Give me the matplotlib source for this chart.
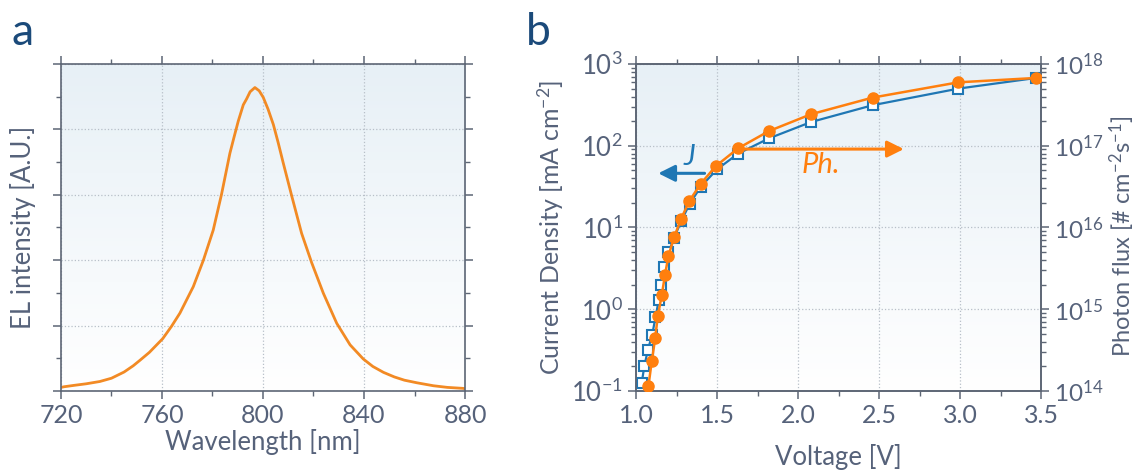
import numpy as np
import matplotlib
matplotlib.use('Agg')
import matplotlib.pyplot as plt
from matplotlib.ticker import MultipleLocator, LogLocator, NullFormatter, FormatStrFormatter
from matplotlib.colors import LinearSegmentedColormap

plt.rcParams['font.family'] = ['Lato', 'DejaVu Sans']
plt.rcParams['mathtext.fontset'] = 'custom'
plt.rcParams['mathtext.rm'] = 'Lato'
plt.rcParams['mathtext.it'] = 'Lato:italic'

# panel a: EL spectrum
wl = [720, 721.3, 725, 730, 735.4, 740, 745, 748.6, 751.3, 755, 760.3, 763.8,
      767.1, 772.4, 776.4, 780.3, 783.6, 786.9, 788.5, 790.2, 792.2, 793.5,
      794.9, 796.8, 798.5, 800.1, 802, 804.1, 806, 808.0, 811.4, 815.3, 819.3,
      823.9, 829.2, 834.5, 839.7, 843.5, 847.7, 852, 856, 861, 867.5, 873,
      879.2, 880]
el = [0.011, 0.013, 0.017, 0.022, 0.029, 0.039, 0.058, 0.077, 0.094, 0.118,
      0.160, 0.198, 0.238, 0.319, 0.400, 0.492, 0.602, 0.727, 0.775, 0.825,
      0.875, 0.893, 0.915, 0.928, 0.918, 0.898, 0.862, 0.815, 0.760, 0.698,
      0.596, 0.482, 0.392, 0.299, 0.207, 0.141, 0.098, 0.075, 0.057, 0.043,
      0.033, 0.025, 0.016, 0.011, 0.008, 0.007]

# panel b: J-V and photon flux
v_j = [1.035, 1.051, 1.073, 1.100, 1.120, 1.140, 1.155, 1.175, 1.200, 1.235,
       1.280, 1.330, 1.400, 1.500, 1.630, 1.820, 2.080, 2.460, 2.990, 3.470]
j = [0.126, 0.20, 0.32, 0.49, 0.80, 1.28, 2.0, 3.25, 4.95, 7.5,
     12.1, 19.3, 31.6, 51.5, 80, 123, 195, 313, 500, 675]
v_ph = [1.076, 1.097, 1.118, 1.134, 1.159, 1.179, 1.200, 1.235, 1.277,
        1.328, 1.400, 1.493, 1.630, 1.820, 2.080, 2.460, 2.990, 3.470]
ph = [1.14e14, 2.3e14, 4.4e14, 8.2e14, 1.5e15, 2.65e15, 4.5e15, 7.6e15, 1.26e16,
      2.1e16, 3.44e16, 5.65e16, 9.3e16, 1.51e17, 2.43e17, 3.88e17, 5.97e17, 6.75e17]

txt = '#56627a'
spine = '#5d6675'
orange = '#ff7f0e'
blue = '#1f77b4'
plt.rcParams['text.color'] = txt
plt.rcParams['axes.labelcolor'] = txt
plt.rcParams['xtick.color'] = spine
plt.rcParams['ytick.color'] = spine
plt.rcParams['xtick.labelcolor'] = txt
plt.rcParams['ytick.labelcolor'] = txt

fig = plt.figure(figsize=(11.35, 4.73), dpi=100)
ax_a = fig.add_axes([0.0537, 0.1734, 0.356, 0.6913])
ax_b = fig.add_axes([0.5604, 0.1734, 0.3568, 0.6913])

grad = np.linspace(0, 1, 256).reshape(-1, 1)
bg = LinearSegmentedColormap.from_list('bg', ['#ffffff', '#e7f0f6'])


def style(ax):
    ax.imshow(grad, cmap=bg, extent=[0, 1, 0, 1], transform=ax.transAxes,
              aspect='auto', origin='lower', zorder=-10)
    for s in ax.spines.values():
        s.set_color(spine)
        s.set_linewidth(1.2)
    ax.tick_params(which='major', direction='out', length=6, width=1.1, labelsize=18)
    ax.tick_params(which='minor', direction='out', length=3.5, width=1.0)
    ax.grid(True, which='major', linestyle=':', color='#b7bfc8', linewidth=0.9)
    ax.set_axisbelow(True)


# ---- panel a
style(ax_a)
ax_a.plot(wl, el, color='#f28a24', lw=2.0)
ax_a.set_xlim(720, 880)
ax_a.set_ylim(0, 1)
ax_a.xaxis.set_major_locator(MultipleLocator(40))
ax_a.xaxis.set_minor_locator(MultipleLocator(20))
ax_a.yaxis.set_major_locator(MultipleLocator(0.2))
ax_a.yaxis.set_minor_locator(MultipleLocator(0.1))
ax_a.tick_params(which='both', top=True, right=True, labelleft=False)
ax_a.set_xlabel('Wavelength [nm]', fontsize=18.5, labelpad=1)
ax_a.set_ylabel('EL intensity [A.U.]', fontsize=18.5, labelpad=12)
fig.text(0.010, 0.905, 'a', fontsize=32, color='#1b4a7a')

# ---- panel b
style(ax_b)
ax_b.set_yscale('log')
ax_b.plot(v_j, j, color=blue, lw=1.6, marker='s', ms=6.5, mfc='white',
          mec=blue, mew=1.5, zorder=3)
ax_b.set_xlim(1.0, 3.5)
ax_b.set_ylim(0.1, 1000)
ax_b.xaxis.set_major_locator(MultipleLocator(0.5))
ax_b.xaxis.set_minor_locator(MultipleLocator(0.25))
ax_b.xaxis.set_major_formatter(FormatStrFormatter('%.1f'))
ax_b.yaxis.set_minor_locator(LogLocator(base=10, subs=np.arange(2, 10), numticks=20))
ax_b.yaxis.set_minor_formatter(NullFormatter())
ax_b.tick_params(which='both', top=True)
ax_b.tick_params(axis='y', labelsize=18.5)
ax_b.set_xlabel('Voltage [V]', fontsize=18.5, labelpad=12)
ax_b.set_ylabel('Current Density [mA cm$^{-2}$]', fontsize=18, labelpad=4)

ax2 = ax_b.twinx()
ax2.set_yscale('log')
ax2.set_ylim(1e14, 1e18)
ax2.plot(v_ph, ph, color=orange, lw=1.8, marker='o', ms=8, zorder=4)
ax2.yaxis.set_minor_locator(LogLocator(base=10, subs=np.arange(2, 10), numticks=20))
ax2.yaxis.set_minor_formatter(NullFormatter())
for s in ax2.spines.values():
    s.set_color(spine)
    s.set_linewidth(1.2)
ax2.tick_params(which='major', direction='out', length=6, width=1.1, labelsize=17.5)
ax2.tick_params(which='minor', direction='out', length=3.5, width=1.0)
fig.text(1122 / 1135, 0.5, 'Photon flux [# cm$^{-2}$s$^{-1}$]', fontsize=17,
         rotation=90, ha='center', va='center')

# arrows pointing to the axis each curve belongs to
head = '-|>,head_length=1.0,head_width=0.5'
ax_b.annotate('', xy=(1.12, 46), xytext=(1.44, 46),
              arrowprops=dict(arrowstyle=head, color=blue, lw=2.2))
ax_b.text(1.33, 73, 'J', color=blue, fontsize=21, style='italic', ha='center', va='center')
ax_b.annotate('', xy=(2.67, 91), xytext=(1.63, 91),
              arrowprops=dict(arrowstyle=head, color=orange, lw=2.2))
ax_b.text(2.14, 58, 'Ph.', color=orange, fontsize=21, style='italic', ha='center', va='center')
fig.text(0.463, 0.905, 'b', fontsize=32, color='#1b4a7a')

fig.savefig('out.png', dpi=100)
